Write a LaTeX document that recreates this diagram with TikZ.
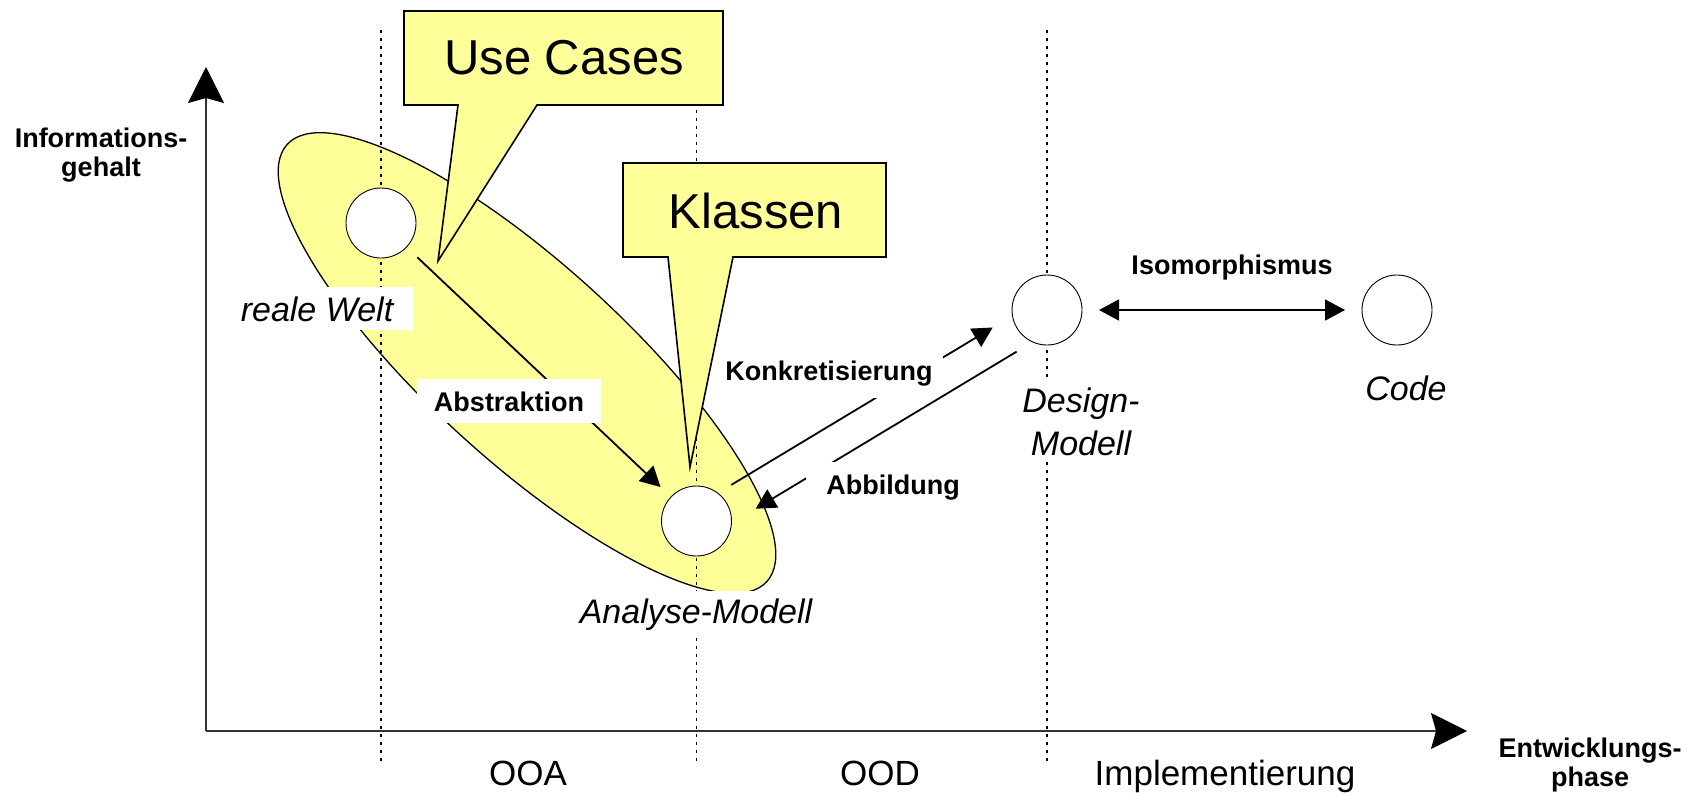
\documentclass[tikz,border=0pt]{standalone}
\usepackage{fontspec}
\setmainfont{Liberation Sans}
\usetikzlibrary{arrows.meta,calc,shapes.geometric}
\definecolor{paleyellow}{RGB}{255,255,153}
\begin{document}
\begin{tikzpicture}[x=1pt,y=-1pt,
  axisline/.style={line width=1.6pt,draw=black!80,-{Stealth[length=36pt,width=36pt,inset=5pt,color=black]}},
  dotline/.style={line width=1.1pt,dash pattern=on 2.5pt off 5.5pt},
  modelnode/.style={circle,draw,fill=white,line width=0.9pt,minimum size=70pt,inner sep=0pt,outer sep=0pt},
  connector/.style={line width=1.8pt,-{Triangle[length=20pt,width=21pt]}},
  bothways/.style={line width=1.8pt,{Triangle[length=20pt,width=21pt]}-{Triangle[length=20pt,width=21pt]}},
  arrowlabel/.style={font=\fontsize{27}{29}\selectfont\bfseries,fill=white,inner xsep=12pt,inner ysep=12pt},
  axislabel/.style={font=\fontsize{27}{29}\selectfont\bfseries,align=center,inner sep=0pt},
  itlabel/.style={font=\fontsize{34}{43}\selectfont\itshape,fill=white,inner xsep=10pt,inner ysep=7pt},
  phaselabel/.style={font=\fontsize{35}{40}\selectfont,inner sep=0pt},
  bigtext/.style={font=\fontsize{49}{55}\selectfont,inner sep=0pt},
  calloutshape/.style={draw,fill=paleyellow,line width=1.6pt,line join=miter}
]
\useasboundingbox (0,0) rectangle (1693,795);

% scope of the analysis phase
\node[ellipse,draw,fill=paleyellow,line width=1.3pt,minimum width=649pt,minimum height=196pt,
      inner sep=0pt,rotate=-42.35] (oval) at (527,363) {};

% phase boundaries
\coordinate (d1t) at (381,30);    \coordinate (d1b) at (381,763);
\coordinate (d2t) at (696.5,30);  \coordinate (d2b) at (696.5,763);
\coordinate (d3t) at (1047,30);   \coordinate (d3b) at (1047,763);
\draw[dotline] (d1t) -- (d1b);
\draw[dotline] (d2t) -- (d2b);
\draw[dotline] (d3t) -- (d3b);

% axes
\coordinate (origin) at (206,731);
\coordinate (ytip) at (206,67);
\coordinate (xtip) at (1467,731);
\draw[axisline] (origin) -- (ytip);
\draw[axisline] (origin) -- (xtip);

\node[axislabel] (yl) at (101,155) {Informations-\\gehalt};
\node[axislabel] (xl) at (1590,765) {Entwicklungs-\\phase};

% models
\node[modelnode] (rw) at (381,223) {};
\node[modelnode] (am) at (696.5,521) {};
\node[modelnode] (dm) at (1047,310) {};
\node[modelnode] (cd) at (1397,310) {};

% transitions and their labels
\draw[connector,shorten <=15pt,shorten >=14.5pt] (rw) -- (am);
\node[arrowlabel,inner xsep=17pt,anchor=base] (abs) at (509,411) {Abstraktion};
\draw[connector] ($(am)!48.5pt!(dm)!13pt!90:(dm)$) -- ($(dm)!55.5pt!(am)!13pt!-90:(am)$);
\node[arrowlabel,inner xsep=10pt,anchor=base] (kon) at (829,380) {Konkretisierung};
\draw[connector] ($(dm)!47.5pt!(am)!20pt!90:(am)$) -- ($(am)!57pt!(dm)!20pt!-90:(dm)$);
\node[arrowlabel,inner xsep=20pt,anchor=base] (abb) at (893,494) {Abbildung};
\draw[bothways,shorten <=17pt,shorten >=17pt] (dm) -- (cd);
\node[arrowlabel,anchor=base] (iso) at (1232,274) {Isomorphismus};

% model names
\node[itlabel,inner xsep=20pt,inner ysep=9pt,anchor=base] (rwl) at (317,321) {reale Welt};
\node[itlabel,anchor=base] (aml) at (696,623) {Analyse-Modell};
\node[itlabel,align=center,inner ysep=6pt] (dml) at (1081,422) {Design-\\Modell};
\node[itlabel,anchor=base] (cdl) at (1406,400) {Code};

% phases
\node[phaselabel,anchor=base] (ooa) at (528,785) {OOA};
\node[phaselabel,anchor=base] (ood) at (880,785) {OOD};
\node[phaselabel,anchor=base] (impl) at (1225,785) {Implementierung};

% callouts
\draw[calloutshape] (404,11) -- (723,11) -- (723,105) -- (537,105) -- (438,261)
  -- (458,105) -- (404,105) -- cycle;
\node[bigtext,anchor=base] (uc) at (564,74) {Use Cases};
\draw[calloutshape] (623,163) -- (886,163) -- (886,257) -- (733,257) -- (690,467)
  -- (668,257) -- (623,257) -- cycle;
\node[bigtext,anchor=base] (kl) at (756,228) {Klassen};
\end{tikzpicture}
\end{document}
